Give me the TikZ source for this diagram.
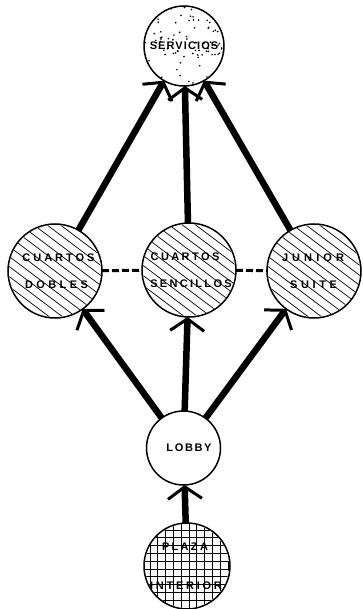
\documentclass[tikz,border=0pt]{standalone}
\usepackage{fontspec}
\newfontfamily\lettering{Liberation Sans Bold}
\usetikzlibrary{arrows.meta}
\newcommand\spaced[3]{\makebox[0pt][c]{\addfontfeature{LetterSpace=#1}\kern#2pt\relax #3}}
\tikzset{
  room/.style={circle, draw, line width=1.5pt, inner sep=0pt, outer sep=0pt, align=center,
    font=\lettering\fontsize{11}{27}\selectfont},
  thinline/.style={line width=0.7pt},
  link/.style={line width=6.5pt, -{Straight Barb[length=12pt,width=34pt,line width=3pt]}},
  dashlink/.style={line width=3pt, dash pattern=on 7pt off 3pt}
}
\newcommand\hatchin[2]{%
  \begin{scope}
    \clip (#1.center) circle (#2);
    \begin{scope}[shift={(#1.center)}, rotate=-37]
      \foreach \k in {-7,...,7} {\draw[thinline] (-70,\k*8) -- (70,\k*8);}
    \end{scope}
  \end{scope}}
\begin{document}
\begin{tikzpicture}[x=1pt,y=-1pt]
\useasboundingbox (0,0) rectangle (362,609);
\node[room, minimum size=80pt] (serv) at (184,46) {\spaced{10}{0}{SERVICIOS}};
\node[room, minimum size=94pt] (dobles) at (55,271) {\spaced{27}{7}{CUARTOS}\\\spaced{31}{3}{DOBLES}};
\node[room, minimum size=94pt] (sencillos) at (189,270) {\spaced{22}{-8}{CUARTOS}\\\spaced{21}{4}{SENCILLOS}};
\node[room, minimum size=94pt] (junior) at (314,271) {\spaced{37}{-2}{JUNIOR}\\\spaced{33}{-1}{SUITE}};
\node[room, minimum size=74pt] (lobby) at (183.5,448) {\spaced{15}{11}{LOBBY}};
\node[room, minimum size=86pt, font=\lettering\fontsize{11}{39}\selectfont] (plaza) at (187,566) {\spaced{21}{-4}{PLAZA}\\\spaced{25}{-2}{INTERIOR}};
% fills
\begin{scope}
  \clip (serv.center) circle (39);
  \pgfmathsetseed{17}
  \foreach \i in {1,...,100} {
    \pgfmathsetmacro\dx{rand*40}
    \pgfmathsetmacro\dy{rand*40}
    \fill ([shift={(\dx,\dy)}]serv.center) circle (0.9);
  }
\end{scope}
\hatchin{dobles}{46}
\hatchin{sencillos}{46}
\hatchin{junior}{46}
\begin{scope}
  \clip (plaza.center) circle (42);
  \begin{scope}[shift={(plaza.center)}]
    \foreach \k in {-6,...,6} {
      \draw[thinline] (\k*7.8+2,-50) -- (\k*7.8+2,50);
      \draw[thinline] (-50,\k*7.8+3) -- (50,\k*7.8+3);
    }
  \end{scope}
\end{scope}
\draw[dashlink] (dobles) -- (sencillos);
\draw[dashlink] (sencillos) -- (junior);
\draw[link] (dobles) -- (serv);
\draw[link] (sencillos) -- (serv);
\draw[link] (junior) -- (serv);
\draw[link] (lobby) -- (dobles);
\draw[link] (lobby) -- (sencillos);
\draw[link] (lobby) -- (junior);
\draw[link] (plaza) -- (lobby);
\end{tikzpicture}
\end{document}
